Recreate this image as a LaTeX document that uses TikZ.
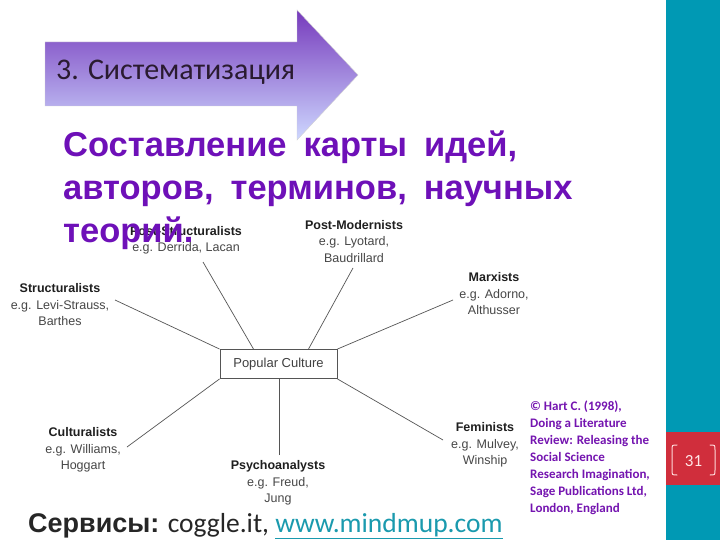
\documentclass[tikz,border=0pt]{standalone}
\usepackage{fontspec}
\setmainfont{Carlito}
\newfontfamily\arialf{Liberation Sans}
\usetikzlibrary{shadings}
\definecolor{teal}{HTML}{0099B4}
\definecolor{slidered}{HTML}{D02E3C}
\definecolor{titlepurple}{HTML}{6E10B8}
\definecolor{refpurple}{HTML}{7414B0}
\definecolor{linkteal}{HTML}{1A9AAE}
\definecolor{diaggray}{HTML}{555555}
\definecolor{arrtop}{RGB}{118,58,188}
\definecolor{arrmid}{RGB}{192,122,240}
\definecolor{arrbot}{RGB}{206,216,255}
\definecolor{arrtext}{HTML}{2A1B30}
\newcommand{\widesp}{\spaceskip=17pt\relax}
\tikzset{
  lbl/.style={font=\arialf\fontsize{12.5}{16.5}\selectfont, text=black!72, align=center, inner sep=0pt},
  conn/.style={draw=diaggray, line width=0.7pt},
  ttl/.style={font=\arialf\bfseries\fontsize{34.5}{43}\selectfont\widesp, text=titlepurple, anchor=base west, inner sep=0pt},
}
\newcommand{\hd}[1]{{\bfseries\color{black!88}#1}}
\begin{document}
\begin{tikzpicture}[x=1pt,y=-1pt]
\useasboundingbox (0,0) rectangle (720,540);
\fill[white] (0,0) rectangle (720,540);
% right bar
\fill[teal] (666,0) rectangle (720,540);
\fill[slidered] (666,432) rectangle (720,485);
\draw[white!85!red, line width=1pt, line cap=round] (677,445) .. controls (672,445) and (672,445) .. (672,450) -- (672,470) .. controls (672,475) and (672,475) .. (677,475);
\draw[white!85!red, line width=1pt, line cap=round] (710,445) .. controls (715,445) and (715,445) .. (715,450) -- (715,470) .. controls (715,475) and (715,475) .. (710,475);
\node[font=\fontsize{17}{20}\selectfont, text=white!90!red] (pg) at (693.5,461) {31};
% arrow
\path[top color=arrtop, middle color=arrmid, bottom color=arrbot, draw=black!18]
  (45,42) -- (297,42) -- (297,10) -- (358,75) -- (297,140) -- (297,106) -- (45,106) -- cycle;
\node[font=\fontsize{30}{34}\selectfont, text=arrtext, anchor=base west, inner sep=0pt] (step3) at (56,80) {3. Систематизация};
% diagram
\node[draw=diaggray, line width=0.9pt, minimum width=117pt, minimum height=29pt, inner sep=0pt, font=\arialf\fontsize{13}{15}\selectfont, text=black!75] (pc) at (278.5,364) {Popular Culture};
\node[lbl] (ps) at (186,240.5) {\hd{Post-Structuralists}\\e.g. Derrida, Lacan};
\node[lbl] (pm) at (354,241.5) {\hd{Post-Modernists}\\e.g. Lyotard,\\Baudrillard};
\node[lbl] (mx) at (494,294) {\hd{Marxists}\\e.g. Adorno,\\Althusser};
\node[lbl] (st) at (60,305) {\hd{Structuralists}\\e.g. Levi-Strauss,\\Barthes};
\node[lbl] (cu) at (83,450) {\hd{Culturalists}\\e.g. Williams,\\Hoggart};
\node[lbl] (py) at (278,483) {\hd{Psychoanalysts}\\e.g. Freud,\\Jung};
\node[lbl] (fe) at (485,445) {\hd{Feminists}\\e.g. Mulvey,\\Winship};
\coordinate (ps-e) at (203,262);
\coordinate (pm-e) at (353,268);
\coordinate (mx-e) at (453,300);
\coordinate (st-e) at (115,300);
\coordinate (cu-e) at (127,447);
\coordinate (py-e) at (279,455);
\coordinate (fe-e) at (443,440);
\draw[conn] (ps-e) -- ([xshift=-25pt]pc.north);
\draw[conn] (pm-e) -- ([xshift=30pt]pc.north);
\draw[conn] (mx-e) -- (pc.north east);
\draw[conn] (st-e) -- (pc.north west);
\draw[conn] (cu-e) -- (pc.south west);
\draw[conn] (py-e) -- (py-e |- pc.south);
\draw[conn] (fe-e) -- (pc.south east);
% title
\node[ttl] (t1) at (63,157) {Составление карты идей,};
\node[ttl] (t2) at (63,200) {авторов, терминов, научных};
\node[ttl] (t3) at (63,243) {теорий.};
% reference
\node[font=\bfseries\fontsize{13}{17}\selectfont, text=refpurple, align=left, anchor=north west, inner sep=0pt] (ref) at (530,401)
 {© Hart C. (1998),\\Doing a Literature\\Review: Releasing the\\Social Science\\Research Imagination,\\Sage Publications Ltd,\\London, England};
% services
\node[anchor=base west, inner sep=0pt, font=\fontsize{27.5}{30}\selectfont, text=black!85] (srv) at (28,532)
 {{\arialf\bfseries\fontsize{27}{30}\selectfont Сервисы:} coggle.it, \textcolor{linkteal}{\underline{www.mindmup.com}}};
\end{tikzpicture}
\end{document}
